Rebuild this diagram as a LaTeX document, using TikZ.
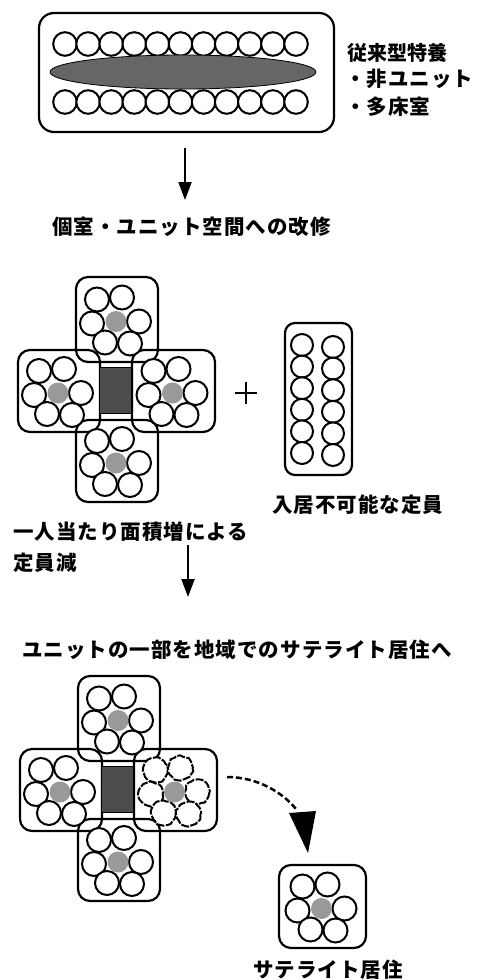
\documentclass[tikz,border=0pt]{standalone}
\usepackage{fontspec}
\newfontfamily\jp{Noto Sans CJK JP}
\usetikzlibrary{arrows.meta,decorations.pathmorphing}
\newcommand\unitflower[3]{%
  \foreach \dx/\dy in {-20/-20, 5/-22, -25/4, 22/2, -12/23, 13/24}
    \draw[#3] (#1+\dx,#2+\dy) circle[radius=12];
  \fill[core] (#1-1,#2+2) circle[radius=10.5];
}
\newcommand\crossplan[1]{%
  \draw[box] (76,277) rectangle (158,362);
  \draw[box] (18,350) rectangle (100,432);
  \draw[box] (132,350) rectangle (215,432);
  \draw[box] (76,420) rectangle (158,502);
  \draw[hub] (99,367) rectangle (131,413);
  \unitflower{117}{319.5}{seat}
  \unitflower{59}{391}{seat}
  \unitflower{173.5}{391}{#1}
  \unitflower{117}{461}{seat}
}
\begin{document}
\begin{tikzpicture}[x=1pt,y=-1pt,
  box/.style={line width=2.2pt, rounded corners=12pt},
  seat/.style={line width=2pt, draw=black, fill=white},
  roughseat/.style={line width=2pt, draw=black, fill=white, decorate,
     decoration={random steps, segment length=3pt, amplitude=0.8pt},
     dash pattern=on 8pt off 1.5pt},
  core/.style={fill=black!40},
  hub/.style={fill=black!70, draw=black, line width=0.8pt},
  lbl/.style={font=\jp\bfseries\fontsize{20.5}{20.5}\selectfont\addfontfeature{LetterSpace=5}, inner sep=0pt, anchor=west},
  lbltight/.style={font=\jp\bfseries\fontsize{20}{20}\selectfont, inner sep=0pt, anchor=west},
  arr/.style={line width=2pt, -{Triangle[width=13pt,length=18pt]}}
]
\pgfmathsetseed{7}
\useasboundingbox (0,0) rectangle (482,980);

% ---- top: conventional facility
\draw[box, rounded corners=15pt] (39,13) rectangle (334,132);
\foreach \i in {0,...,10} {
  \draw[seat] (65+23.1*\i,44) circle[radius=11.8];
  \draw[seat] (65+23.1*\i,102) circle[radius=11.8];
}
\draw[fill=black!60, line width=0.8pt] (183,72) ellipse[x radius=133, y radius=17];
\node[lbltight] (t1) at (347,53) {従来型特養};
\node[lbl] (t2) at (345,79) {・非ユニット};
\node[lbl] (t3) at (345,107) {・多床室};

\coordinate (a1s) at (185,148);
\coordinate (a1e) at (185,200);
\draw[arr] (a1s) -- (a1e);
\node[lbl] (t4) at (52,227) {個室・ユニット空間への改修};

% ---- middle: cross plan
\crossplan{seat}
\draw[line width=1.5pt] (235,393) -- (257,393) (246,382) -- (246,404);
\draw[box, rounded corners=10pt] (285,323) rectangle (352,475);
\foreach \k in {0,...,5} {
  \draw[seat] (302,345+21.6*\k) circle[radius=11];
  \draw[seat] (333,347+21.6*\k) circle[radius=11];
}
\node[lbl] (t5) at (272,505) {入居不可能な定員};
\node[lbl] (t6) at (13,532) {一人当たり面積増による};
\node[lbl] (t7) at (13,563) {定員減};

\coordinate (a2s) at (188,545);
\coordinate (a2e) at (188,597);
\draw[arr] (a2s) -- (a2e);
\node[lbl] (t8) at (22,650) {ユニットの一部を地域でのサテライト居住へ};

% ---- bottom: cross plan with satellite
\begin{scope}[shift={(2,399)}]
\crossplan{roughseat}
\end{scope}

\coordinate (ds) at (227,777);
\coordinate (de) at (296,809);
\draw[line width=2.5pt, dash pattern=on 6pt off 3pt] (ds) .. controls (258,777) and (283,793) .. (de);
\fill (289,813) -- (316,811) -- (308,853) -- cycle;

\draw[box, rounded corners=12pt] (279,865) rectangle (366,948);
\unitflower{322.5}{906.5}{seat}
\node[lbl] (t9) at (253,970) {サテライト居住};
\end{tikzpicture}
\end{document}
